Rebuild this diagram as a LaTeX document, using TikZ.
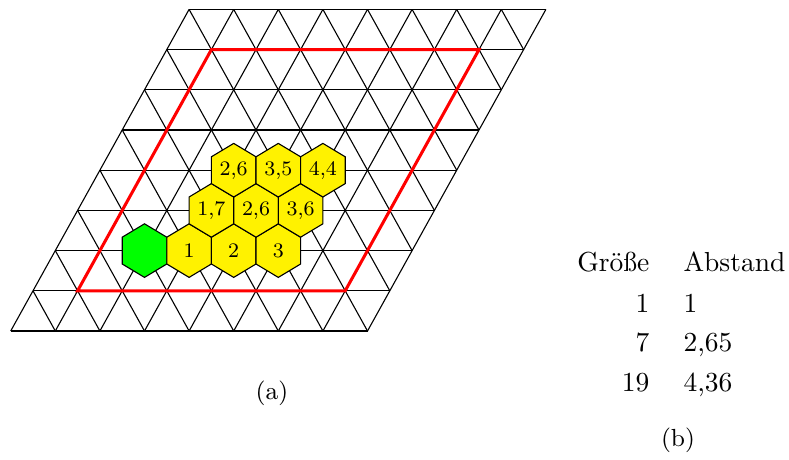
\documentclass[tikz,border=0pt]{standalone}
\begin{document}
\begin{tikzpicture}[x=0.3636pt,y=0.3636pt,
  gridline/.style={line width=0.4pt, black},
  hexcell/.style={draw=black, line width=0.4pt},
  redframe/.style={red, line width=1.1pt, line join=miter},
  hexlabel/.style={font=\fontsize{7.5}{9}\selectfont, inner sep=0pt},
  tabtext/.style={font=\fontsize{10}{12}\selectfont, inner sep=0pt},
  captext/.style={font=\fontsize{9}{11}\selectfont, inner sep=0pt}]
\useasboundingbox (0,0) rectangle (789,459);
\begin{scope}[shift={(10.7,128)}, x={(16.217pt,0pt)}, y={(8.108pt,14.617pt)}]
  \foreach \j in {0,...,8} \draw[gridline] (0,\j) -- (8,\j);
  \foreach \i in {0,...,8} \draw[gridline] (\i,0) -- (\i,8);
  \foreach \k in {1,...,8} \draw[gridline] (\k,0) -- (0,\k);
  \foreach \k in {9,...,15} \draw[gridline] (8,\k-8) -- (\k-8,8);
  \coordinate (r1) at (1,1);
  \coordinate (r2) at (7,1);
  \coordinate (r3) at (7,7);
  \coordinate (r4) at (1,7);
  \draw[redframe] (r1) -- (r2) -- (r3) -- (r4) -- cycle;
  \foreach \i/\j/\c/\t/\n in {2/2/green/{}/h0, 3/2/yellow/{1}/h1, 4/2/yellow/{2}/h2, 5/2/yellow/{3}/h3,
      3/3/yellow/{1,7}/h4, 4/3/yellow/{2,6}/h5, 5/3/yellow/{3,6}/h6,
      3/4/yellow/{2,6}/h7, 4/4/yellow/{3,5}/h8, 5/4/yellow/{4,4}/h9} {
    \filldraw[hexcell, fill=\c] (\i+1/3,\j+1/3) -- (\i-1/3,\j+2/3) -- (\i-2/3,\j+1/3)
      -- (\i-1/3,\j-1/3) -- (\i+1/3,\j-2/3) -- (\i+2/3,\j-1/3) -- cycle;
    \node[hexlabel] (\n) at (\i,\j) {\t};
  }
\end{scope}
\node[tabtext, anchor=base east] (c1h) at (650,187) {Größe};
\node[tabtext, anchor=base west] (c2h) at (683,187) {Abstand};
\node[tabtext, anchor=base east] (c1a) at (650,147) {1};
\node[tabtext, anchor=base west] (c2a) at (683,147) {1};
\node[tabtext, anchor=base east] (c1b) at (650,107) {7};
\node[tabtext, anchor=base west] (c2b) at (683,107) {2,65};
\node[tabtext, anchor=base east] (c1c) at (650,67) {19};
\node[tabtext, anchor=base west] (c2c) at (683,67) {4,36};
\node[captext] (capa) at (272,66) {(a)};
\node[captext] (capb) at (678,19) {(b)};
\end{tikzpicture}
\end{document}
